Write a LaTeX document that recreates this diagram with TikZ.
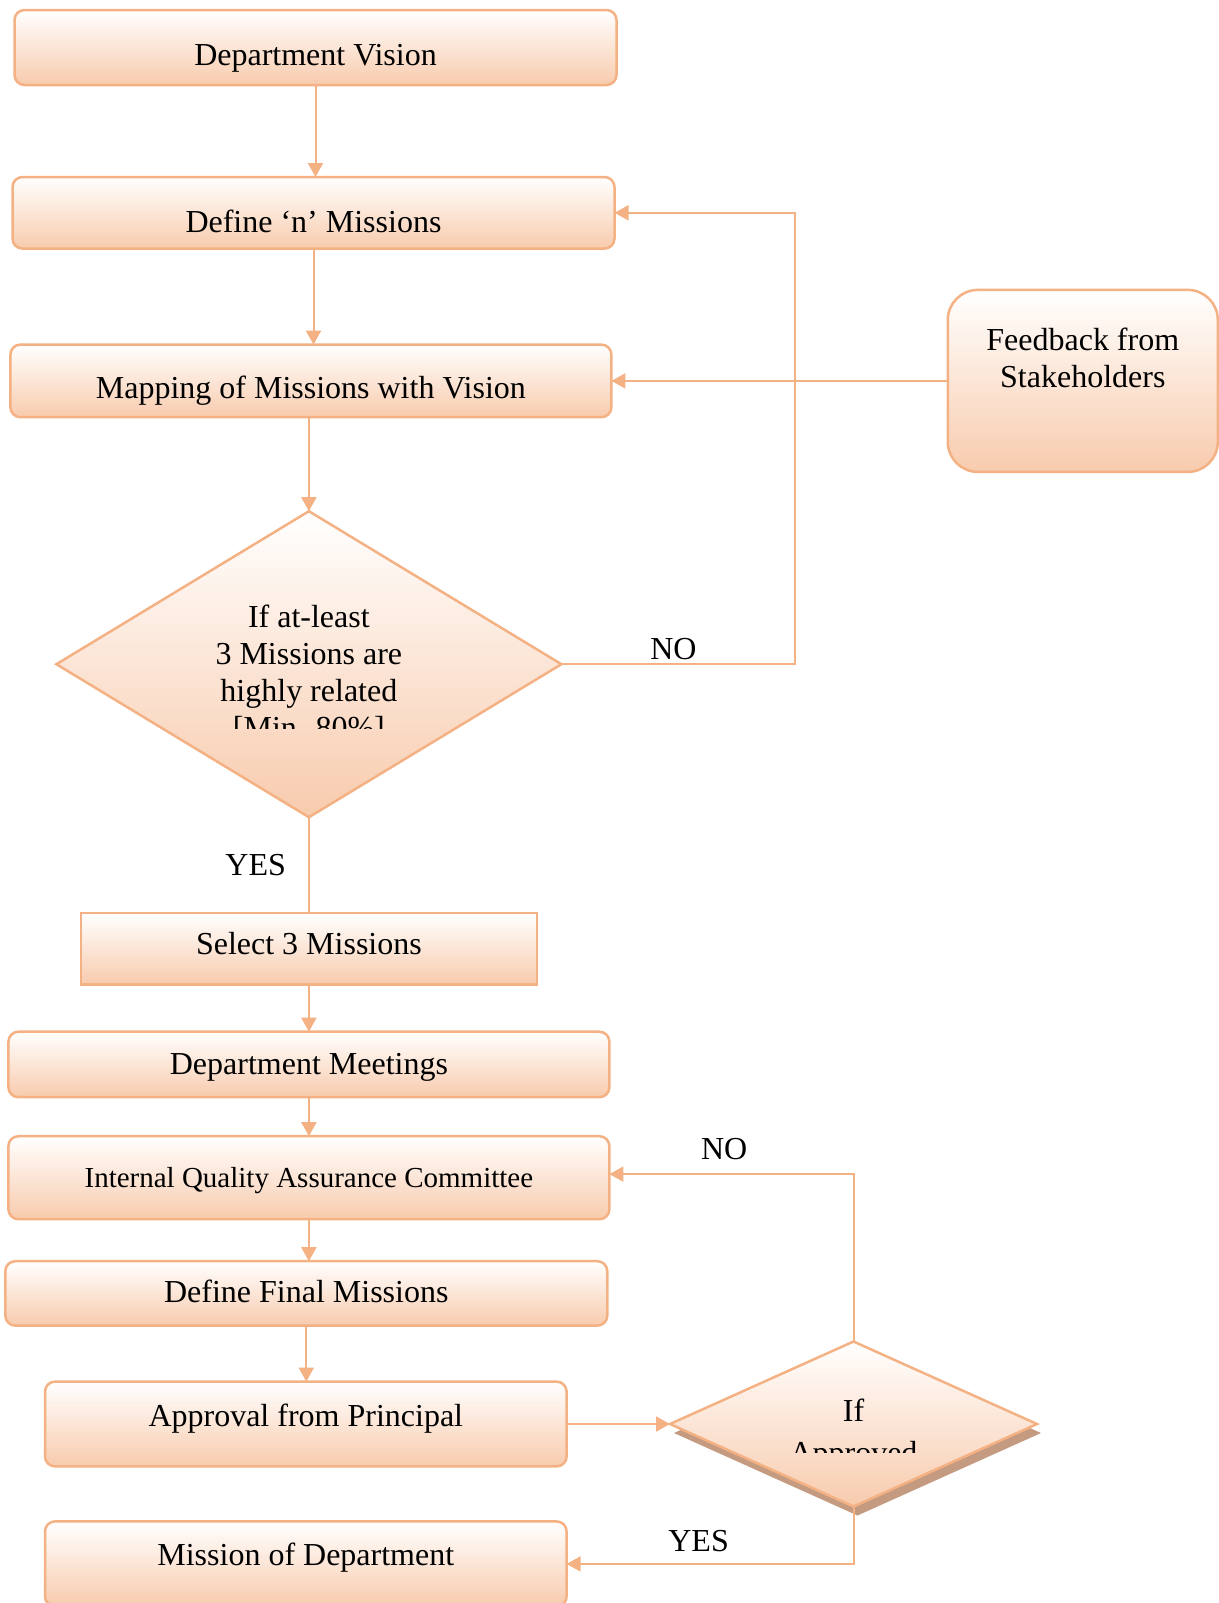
\documentclass[tikz,border=0pt]{standalone}
\usepackage{fontspec}
\setmainfont{Liberation Serif}
\usetikzlibrary{arrows.meta,positioning,shapes.geometric,shadows}
\definecolor{lineorange}{HTML}{F4B183}
\definecolor{fillorange}{HTML}{F8CBAD}
\definecolor{shadowtan}{HTML}{C49B80}

\begin{document}
\begin{tikzpicture}[x=0.5pt, y=-0.5pt, >={Triangle[length=7pt,width=7.5pt]},
    box/.style={draw=lineorange, line width=1.25pt, top color=white, bottom color=fillorange,
      rounded corners=5pt, inner sep=0pt, outer sep=0pt,
      font=\fontsize{16pt}{18.5pt}\selectfont, text height=11pt, text depth=3.5pt},
    plainbox/.style={box, sharp corners},
    decision/.style={diamond, draw=lineorange, line width=1.25pt, top color=white,
      bottom color=fillorange, inner sep=0pt, outer sep=0pt},
    flow/.style={draw=lineorange, color=lineorange, line width=1pt},
    answer/.style={inner sep=0pt, text=black, font=\fontsize{16pt}{18.5pt}\selectfont}]
    \useasboundingbox (0,0) rectangle (1219,1603);

    %main column
    \node[box, minimum width=301pt, minimum height=37.5pt, text height=21.7pt] (dv) at (315.5,47.5) {Department Vision};
    \node[box, minimum width=301pt, minimum height=35.8pt, text height=23pt] (def) [below=46pt of dv, xshift=-1pt] {Define ‘n’ Missions};
    \node[box, minimum width=300.5pt, minimum height=36.3pt, text height=21.2pt] (map) [below=48pt of def, xshift=-1.3pt] {Mapping of Missions with Vision};
    \node[decision, minimum width=252.5pt, minimum height=153pt] (d1) [below=47pt of map, xshift=-1pt] {};
    \begin{scope}
      \clip ([yshift=40pt]d1.west) rectangle ([yshift=-32pt]d1.east);
      \node[answer, align=center, anchor=north] (d1text) at ([yshift=30pt]d1.center) {If at-least\\3 Missions are\\highly related\\{}[Min. 80\%]};
    \end{scope}
    \node[plainbox, minimum width=228pt, minimum height=35.75pt, text depth=5pt] (sel) [below=48pt of d1] {Select 3 Missions};
    \node[box, minimum width=300.5pt, minimum height=32.75pt, text height=14pt] (meet) [below=23.5pt of sel] {Department Meetings};
    \node[box, minimum width=300.5pt, minimum height=41.5pt, text height=13pt, font=\fontsize{14.5pt}{17pt}\selectfont] (iqac) [below=19.5pt of meet] {Internal Quality Assurance Committee};
    \node[box, minimum width=301pt, minimum height=32.2pt, text height=13pt] (final) [below=21pt of iqac, xshift=-1.3pt] {Define Final Missions};
    \node[box, minimum width=260.8pt, minimum height=42.4pt, text depth=8.6pt] (appr) [below=28pt of final, xshift=-0.25pt] {Approval from Principal};
    \node[box, minimum width=260.8pt, minimum height=42.5pt, text depth=9.7pt] (miss) [below=27.5pt of appr] {Mission of Department};

    %side boxes
    \node[box, rounded corners=15pt, minimum width=135pt, minimum height=91pt, text height=11pt, text depth=41pt] (fb) [right=168.2pt of map] {\begin{tabular}[t]{c}Feedback from\\Stakeholders\end{tabular}};
    \node[decision, minimum width=183.5pt, minimum height=82.5pt,
      drop shadow={shadow xshift=2pt, shadow yshift=-4.5pt, fill=shadowtan, opacity=1}] (d2) [right=51.7pt of appr] {};
    \begin{scope}
      \clip ([yshift=20pt]d2.west) rectangle ([yshift=-14pt]d2.east);
      \node[answer, align=center, anchor=north, font=\fontsize{16pt}{21pt}\selectfont] (d2text) at ([yshift=12.5pt]d2.center) {If\\Approved};
    \end{scope}

    %straight arrows
    \draw[flow, ->] (dv.south) -- (dv.south |- def.north);
    \draw[flow, ->] (def.south) -- (def.south |- map.north);
    \draw[flow, ->] (map.south -| d1.north) -- (d1.north);
    \draw[flow, ->] (sel) -- (meet);
    \draw[flow, ->] (meet) -- (iqac);
    \draw[flow, ->] (iqac.south) -- (iqac.south |- final.north);
    \draw[flow, ->] (final.south) -- (final.south |- appr.north);
    \draw[flow, ->] (appr) -- (d2);
    \draw[flow, ->] (fb.west) -- (fb.west -| map.east);

    %decision branches
    \draw[flow] (d1) -- (sel) node[answer, midway, left=11pt] (yes1) {YES};
    \coordinate (noturn) at ([xshift=116.75pt]d1.east);
    \draw[flow, ->] (d1.east) -- (noturn) node[answer, pos=0.48, above=1.5pt] (no1) {NO} |- (def.east);
    \draw[flow, ->] (d2.north) |- ([yshift=1.8pt]iqac.east) node[answer, pos=0.765, above=6.5pt] (no2) {NO};
    \draw[flow, ->] (d2.south) |- (miss.east) node[answer, pos=0.77, above=5.5pt] (yes2) {YES};
\end{tikzpicture}
\end{document}
